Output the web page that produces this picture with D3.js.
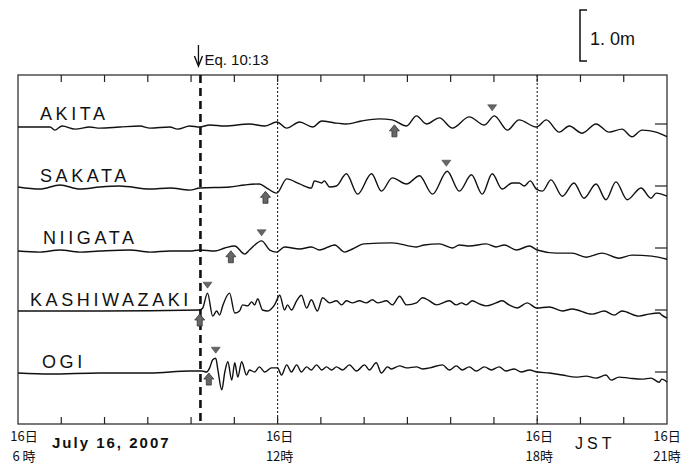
<!DOCTYPE html>
<html>
<head>
<meta charset="utf-8">
<script src="https://cdn.jsdelivr.net/npm/d3@7"></script>
<style>
  html, body { margin: 0; padding: 0; background: #fff; }
  svg { display: block; }
  .lbl { font-family: "Liberation Sans", Arial, sans-serif; fill: #111; }
  .jp { font-family: "Noto Sans CJK JP", sans-serif; fill: #111; }
</style>
</head>
<body>
<svg id="chart" width="683" height="464"></svg>
<script>
// tide gauge records, 16 July 2007 (JST). [hour, level in cm from reference line]
const stations = ["AKITA", "SAKATA", "NIIGATA", "KASHIWAZAKI", "OGI"];

const akita = [
  [6.00,-6],[6.74,-6],[6.85,-12],[7.02,-4],[7.32,-10],[7.66,-6],[7.89,-8],[8.35,-6],
  [8.82,-4],[9.05,-8],[9.51,-6],[9.69,-10],[9.97,-4],[10.20,-6],[10.43,-2],[10.78,-4],
  [11.35,0],[11.70,-4],[11.98,4],[12.21,-8],[12.51,4],[12.81,-6],[13.02,6],[13.32,2],
  [13.59,0],[13.94,6],[14.35,10],[14.65,8],[14.98,-4],[15.21,16],[15.44,0],[15.74,12],
  [16.04,-8],[16.43,14],[16.78,-2],[17.01,16],[17.31,-12],[17.58,8],[17.98,-6],[18.21,8],
  [18.51,-16],[18.74,-4],[19.04,-18],[19.36,0],[19.66,-16],[19.96,-10],[20.19,-25],
  [20.42,-12],[20.75,-16],[21.00,-25]
];
const sakata = [
  [6.00,-2],[6.51,-6],[6.97,2],[7.43,-6],[7.89,-2],[8.35,0],[9.05,-6],[9.51,-4],[9.97,-8],
  [10.20,-4],[10.89,-2],[11.24,2],[11.58,4],[11.75,-4],[11.98,-14],[12.21,14],[12.51,4],
  [12.78,-4],[12.85,10],[13.02,6],[13.08,10],[13.20,-2],[13.36,0],[13.59,24],[13.85,-16],
  [14.17,24],[14.40,-10],[14.65,16],[14.98,4],[15.28,20],[15.58,-16],[15.92,29],[16.20,-10],
  [16.48,22],[16.73,-16],[16.96,24],[17.19,-6],[17.42,6],[17.58,6],[17.70,0],[17.84,10],
  [17.98,-6],[18.12,-10],[18.32,12],[18.58,-20],[18.85,6],[19.08,-24],[19.36,4],[19.59,-27],
  [19.82,8],[20.08,-27],[20.40,-4],[20.63,-24],[20.75,-14],[21.00,-20]
];
const niigata = [
  [6.00,-6],[6.51,-8],[6.97,-4],[7.43,-8],[7.89,-6],[8.58,-4],[9.05,-8],[9.51,-6],[9.97,-6],
  [10.20,-4],[10.55,-6],[10.78,0],[11.01,4],[11.24,-12],[11.35,-4],[11.63,14],[11.82,-4],
  [11.98,-8],[12.16,2],[12.51,-2],[12.78,2],[12.97,-4],[13.32,6],[13.55,-8],[13.73,-2],
  [14.00,8],[14.65,10],[15.21,2],[15.39,6],[15.74,8],[16.04,0],[16.20,6],[16.43,4],
  [16.82,8],[17.05,2],[17.24,6],[17.52,-4],[17.82,4],[18.00,-4],[18.44,-10],[18.81,-10],
  [19.13,-18],[19.50,-10],[19.89,-20],[20.19,-14],[20.65,-16],[21.00,-22]
];
const kashiwazaki = [
  [6.00,-2],[7.89,-2],[10.20,0],[10.27,4],[10.38,33],[10.50,-12],[10.59,-2],[10.66,-10],
  [10.73,8],[10.89,33],[11.01,-6],[11.12,-2],[11.19,10],[11.31,8],[11.40,16],[11.47,10],
  [11.54,22],[11.65,0],[11.77,-2],[11.93,10],[12.05,29],[12.16,0],[12.23,10],[12.32,0],
  [12.44,18],[12.55,29],[12.67,4],[12.78,20],[12.92,-2],[13.04,24],[13.20,14],[13.36,18],
  [13.48,10],[13.59,18],[13.73,14],[13.89,18],[14.05,14],[14.19,20],[14.31,14],[14.52,18],
  [14.65,10],[14.82,27],[14.98,10],[15.21,14],[15.35,24],[15.51,18],[15.67,10],[15.97,18],
  [16.13,10],[16.25,14],[16.36,10],[16.50,18],[16.66,12],[16.82,8],[17.05,14],[17.19,18],
  [17.35,10],[17.54,4],[17.77,14],[17.98,4],[18.28,6],[18.58,-2],[18.81,2],[19.27,-8],
  [19.55,-2],[19.78,-10],[19.96,-2],[20.35,-12],[20.58,-8],[20.82,-6],[20.88,-10],[21.00,-16]
];
const ogi = [
  [6.00,-2],[6.74,-4],[7.89,-2],[9.05,-2],[9.97,2],[10.25,2],[10.36,0],[10.43,8],[10.50,24],
  [10.57,27],[10.62,4],[10.71,-35],[10.78,0],[10.85,20],[10.94,-16],[11.01,18],[11.08,-10],
  [11.17,20],[11.28,-6],[11.35,4],[11.47,0],[11.58,10],[11.70,0],[11.86,8],[12.00,8],
  [12.09,-6],[12.21,14],[12.32,0],[12.44,14],[12.55,0],[12.67,10],[12.78,4],[12.90,14],
  [13.02,4],[13.13,10],[13.25,4],[13.36,10],[13.50,4],[13.66,14],[13.82,2],[14.01,14],
  [14.12,4],[14.28,18],[14.40,-2],[14.54,10],[14.63,6],[14.82,12],[14.98,8],[15.21,10],
  [15.35,6],[15.51,8],[15.81,14],[15.97,4],[16.13,12],[16.27,4],[16.43,10],[16.59,2],
  [16.78,10],[16.94,4],[17.12,10],[17.28,2],[17.47,6],[17.63,0],[17.82,4],[18.00,0],
  [18.28,-2],[18.58,-6],[18.90,-10],[19.13,-8],[19.36,-12],[19.59,-6],[19.71,-16],
  [19.89,-10],[20.12,-12],[20.42,-14],[20.63,-12],[20.82,-20],[20.88,-14],[21.00,-20]
];
const records = [akita, sakata, niigata, kashiwazaki, ogi];

// first arrival (up arrow) and maximum (down triangle), hours
const arrivalT = [14.70, 11.72, 10.92, 10.20, 10.41];
const maxT = [16.96, 15.90, 11.63, 10.38, 10.57];

const eqTime = 10 + 13 / 60;
const labelHours = [6, 12, 18, 21];
const labelDay = ["16日", "16日", "16日", "16日"];
const labelHour = ["6 時", "12時", "18時", "21時"];

const d3 = window.d3;
const svg = d3.select("#chart");

const box = { left: 18, right: 667, top: 75, bottom: 424 };
const labelX = [40, 40, 43, 30, 42];

const x = d3.scaleLinear().domain([6, 21]).range([box.left, box.right]);
const yRef = d3.scalePoint().domain(stations).range([124, 372]);
const amp = d3.scaleLinear().domain([0, 100]).range([0, 51]); // cm -> px

// frame
svg.append("rect")
  .attr("x", box.left).attr("y", box.top)
  .attr("width", box.right - box.left).attr("height", box.bottom - box.top)
  .attr("fill", "none").attr("stroke", "#333").attr("stroke-width", 1.3);

// hour ticks, top and bottom, pointing inward
const hours = d3.range(7, 21);
svg.append("g").selectAll("line").data(hours).join("line")
  .attr("x1", d => x(d)).attr("x2", d => x(d))
  .attr("y1", box.top).attr("y2", box.top + 7)
  .attr("stroke", "#222").attr("stroke-width", 1.2);
svg.append("g").selectAll("line").data(hours).join("line")
  .attr("x1", d => x(d)).attr("x2", d => x(d))
  .attr("y1", box.bottom).attr("y2", box.bottom - 7)
  .attr("stroke", "#222").attr("stroke-width", 1.2);

// dotted lines at 12 and 18
svg.append("g").selectAll("line").data([12, 18]).join("line")
  .attr("x1", d => x(d)).attr("x2", d => x(d))
  .attr("y1", box.top).attr("y2", box.bottom)
  .attr("stroke", "#222").attr("stroke-width", 1.1)
  .attr("stroke-dasharray", "2,2");

// earthquake line
svg.append("line")
  .attr("x1", x(eqTime)).attr("x2", x(eqTime))
  .attr("y1", box.top).attr("y2", box.bottom)
  .attr("stroke", "#111").attr("stroke-width", 2.6)
  .attr("stroke-dasharray", "8,5");

svg.append("line")
  .attr("x1", x(eqTime) - 2).attr("x2", x(eqTime) - 2)
  .attr("y1", 45).attr("y2", 64)
  .attr("stroke", "#111").attr("stroke-width", 1.3);
svg.append("path")
  .attr("d", `M${x(eqTime) - 6},56 L${x(eqTime) - 2},66 L${x(eqTime) + 2},56`)
  .attr("fill", "none").attr("stroke", "#111").attr("stroke-width", 1.4);
svg.append("text").attr("class", "lbl")
  .attr("x", x(eqTime) + 4).attr("y", 65)
  .attr("font-size", 15)
  .text("Eq. 10:13");

// right-edge reference ticks
svg.append("g").selectAll("line").data(stations).join("line")
  .attr("x1", box.right - 12).attr("x2", box.right)
  .attr("y1", d => yRef(d)).attr("y2", d => yRef(d))
  .attr("stroke", "#222").attr("stroke-width", 1.2);

// traces
const line = d3.line()
  .x(d => x(d[0]))
  .curve(d3.curveMonotoneX);

stations.forEach((s, i) => {
  const base = yRef(s);
  svg.append("path")
    .datum(records[i])
    .attr("d", line.y(d => base - amp(d[1])))
    .attr("fill", "none")
    .attr("stroke", "#111")
    .attr("stroke-width", 1.4);

  svg.append("text").attr("class", "lbl")
    .attr("x", labelX[i]).attr("y", base - 4)
    .attr("font-size", 18)
    .attr("letter-spacing", 3.6)
    .text(s);
});

function valueAt(rec, t) {
  const i = d3.bisector(d => d[0]).right(rec, t);
  const a = rec[Math.max(0, i - 1)], b = rec[Math.min(rec.length - 1, i)];
  if (a === b) return a[1];
  return a[1] + (b[1] - a[1]) * (t - a[0]) / (b[0] - a[0]);
}

// markers
stations.forEach((s, i) => {
  const base = yRef(s);
  const rec = records[i];

  // up arrow just below trace at arrival
  const ax = x(arrivalT[i]);
  const ay = base - amp(valueAt(rec, arrivalT[i])) + 4;
  svg.append("path")
    .attr("d", `M${ax},${ay} L${ax + 5},${ay + 6} L${ax + 2.5},${ay + 6} L${ax + 2.5},${ay + 12}
               L${ax - 2.5},${ay + 12} L${ax - 2.5},${ay + 6} L${ax - 5},${ay + 6} Z`)
    .attr("fill", "#666").attr("stroke", "#333").attr("stroke-width", 0.8);

  // down triangle above the maximum
  const near = rec.filter(d => Math.abs(d[0] - maxT[i]) < 0.12);
  const peak = d3.max(near, d => d[1]);
  const tx = x(maxT[i]);
  const ty = base - amp(peak) - 5;
  svg.append("path")
    .attr("d", `M${tx - 4.5},${ty - 6} L${tx + 4.5},${ty - 6} L${tx},${ty} Z`)
    .attr("fill", "#666").attr("stroke", "#444").attr("stroke-width", 0.6);
});

// 1.0 m scale bar
const sbx = 580, sbTop = 10;
svg.append("path")
  .attr("d", `M${sbx + 7},${sbTop} L${sbx},${sbTop} L${sbx},${sbTop + amp(100)} L${sbx + 7},${sbTop + amp(100)}`)
  .attr("fill", "none").attr("stroke", "#111").attr("stroke-width", 1.5);
svg.append("text").attr("class", "lbl")
  .attr("x", sbx + 10).attr("y", 45)
  .attr("font-size", 18)
  .text("1. 0m");

// time labels
labelHours.forEach((h, i) => {
  const px = h === 6 ? 24 : (h === 21 ? x(h) : x(h) + 2);
  svg.append("text").attr("class", "jp")
    .attr("x", px).attr("y", 441)
    .attr("font-size", 13).attr("text-anchor", "middle")
    .text(labelDay[i]);
  svg.append("text").attr("class", "jp")
    .attr("x", px).attr("y", 461)
    .attr("font-size", 13).attr("text-anchor", "middle")
    .text(labelHour[i]);
});

svg.append("text").attr("class", "lbl")
  .attr("x", 52).attr("y", 448)
  .attr("font-size", 15).attr("font-weight", "bold")
  .attr("letter-spacing", 2)
  .text("July 16, 2007");

svg.append("text").attr("class", "lbl")
  .attr("x", 575).attr("y", 449)
  .attr("font-size", 16)
  .attr("letter-spacing", 4)
  .text("JST");
</script>
</body>
</html>
